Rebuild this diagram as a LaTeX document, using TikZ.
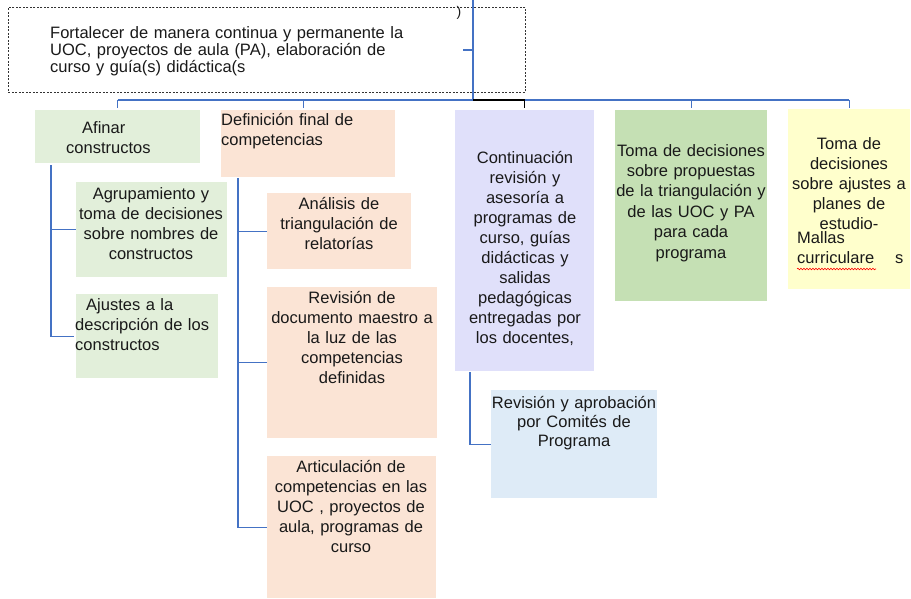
\documentclass[tikz,border=0pt]{standalone}
\usepackage{fontspec}
\setmainfont{Liberation Sans}
\usetikzlibrary{decorations.pathmorphing}
\definecolor{greenlt}{HTML}{E2EFDA}
\definecolor{greenmd}{HTML}{C5E0B4}
\definecolor{peach}{HTML}{FBE4D5}
\definecolor{lavender}{HTML}{E0E0FA}
\definecolor{yellowlt}{HTML}{FFFFCC}
\definecolor{bluelt}{HTML}{DEEBF7}
\definecolor{linkblue}{HTML}{4472C4}
\begin{document}
\begin{tikzpicture}[x=1pt, y=-1pt,
                    box/.style={inner sep=0pt, anchor=north west},
                    txt/.style={font=\fontsize{16.5}{20}\selectfont, text=black!90, inner sep=0pt},
                    ctxt/.style={txt, align=center, text width=170pt, anchor=base},
                    ltxt/.style={txt, align=left, text width=380pt, anchor=base west},
                    conn/.style={draw=linkblue, line width=1.2pt},
                    blackconn/.style={draw=black, line width=1.2pt}]
  \useasboundingbox (0,0) rectangle (911,598);

  % boxes
  \node[box, draw=black!80, dashed, dash pattern=on 2pt off 1.5pt, line width=0.8pt, minimum width=517pt, minimum height=85pt] (tope) at (8,7) {};
  \node[box, fill=greenlt, minimum width=165pt, minimum height=53pt] (afinar) at (35,110) {};
  \node[box, fill=peach, minimum width=174pt, minimum height=67pt] (defin) at (221,110) {};
  \node[box, fill=lavender, minimum width=139pt, minimum height=261pt] (contin) at (455,110) {};
  \node[box, fill=greenmd, minimum width=152pt, minimum height=191pt] (propuestas) at (615,110) {};
  \node[box, fill=yellowlt, minimum width=122pt, minimum height=180pt] (planes) at (788,109) {};
  \node[box, fill=greenlt, minimum width=151pt, minimum height=95pt] (agrup) at (76,182) {};
  \node[box, fill=greenlt, minimum width=142pt, minimum height=84pt] (descrip) at (76,294) {};
  \node[box, fill=peach, minimum width=144pt, minimum height=76pt] (analisis) at (267,193) {};
  \node[box, fill=peach, minimum width=170pt, minimum height=151pt] (revdoc) at (267,287) {};
  \node[box, fill=peach, minimum width=169pt, minimum height=142pt] (articul) at (267,456) {};
  \node[box, fill=bluelt, minimum width=166pt, minimum height=108pt] (aprob) at (491,390) {};

  % texts
  \node[ltxt, font=\fontsize{16.5}{17}\selectfont] (tope-t) at (50,38)
    {Fortalecer de manera continua y permanente la\\UOC, proyectos de aula (PA), elaboración de\\curso y guía(s) didáctica(s};
  \node[txt, font=\fontsize{14}{14}\selectfont] (paren) at (459,13) {)};
  \node[ltxt] (afinar-t) at (66,133) {\hspace*{16pt}Afinar\\constructos};
  \node[ltxt] (defin-t) at (221,125) {Definición final de\\competencias};
  \node[ctxt] (contin-t) at (525,163) {Continuación\\revisión y\\asesoría a\\programas de\\curso, guías\\didácticas y\\salidas\\pedagógicas\\entregadas por\\los docentes,};
  \node[ctxt, font=\fontsize{16.5}{20.4}\selectfont] (propuestas-t) at (691,156) {Toma de decisiones\\sobre propuestas\\de la triangulación y\\de las UOC y PA\\para cada\\programa};
  \node[ctxt] (planes-t) at (849,149) {Toma de\\decisiones\\sobre ajustes a\\planes de\\estudio-};
  \node[ltxt, text width=90pt] (mallas-t) at (797,243) {Mallas\\curriculare};
  \node[txt, anchor=base west] (ese-t) at (895,263) {s};
  \node[ctxt] (agrup-t) at (151,199) {Agrupamiento y\\toma de decisiones\\sobre nombres de\\constructos};
  \node[ltxt, text width=150pt] (descrip-t) at (75,310) {\hspace*{11pt}Ajustes a la\\descripción de los\\constructos};
  \node[ctxt] (analisis-t) at (339,209) {Análisis de\\triangulación de\\relatorías};
  \node[ctxt] (revdoc-t) at (352,303) {Revisión de\\documento maestro a\\la luz de las\\competencias\\definidas};
  \node[ctxt] (articul-t) at (351,472) {Articulación de\\competencias en las\\UOC , proyectos de\\aula, programas de\\curso};
  \node[ctxt, font=\fontsize{16.5}{19}\selectfont] (aprob-t) at (574,408) {Revisión y aprobación\\por Comités de\\Programa};

  % spelling mark
  \draw[red, line width=0.6pt, decorate, decoration={snake, amplitude=0.8pt, segment length=3pt}]
    ([yshift=-6pt]ese-t.base -| mallas-t.west) -- ++(79,0);

  % connectors
  \coordinate (arriba) at (473,0);
  \coordinate (bus) at (473,100);
  \draw[conn] (arriba) -- (bus);
  \draw[conn] ([xshift=-10pt]tope.center -| bus) -- (tope.center -| bus);
  \draw[conn] (afinar.north |- bus) -- (planes.north |- bus);
  \draw[conn] (afinar.north |- bus) -- ([yshift=2pt]afinar.north);
  \draw[conn] ([xshift=-5pt]defin.north |- bus) -- ([xshift=-5pt, yshift=2pt]defin.north);
  \draw[conn] (propuestas.north |- bus) -- ([yshift=2pt]propuestas.north);
  \draw[conn] (planes.north |- bus) -- ([yshift=1pt]planes.north);
  \draw[blackconn] (bus) -- (contin.north |- bus) -- ([yshift=2pt]contin.north);
  \draw[conn] ([xshift=16pt, yshift=-2pt]afinar.south west) |- (agrup.west);
  \draw[conn] ([xshift=16pt, yshift=-2pt]afinar.south west) |- ([xshift=-2pt]descrip.west);
  \draw[conn] ([xshift=17pt, yshift=-1pt]defin.south west) |- (analisis.west);
  \draw[conn] ([xshift=17pt, yshift=-1pt]defin.south west) |- (revdoc.west);
  \draw[conn] ([xshift=17pt, yshift=-1pt]defin.south west) |- (articul.west);
  \draw[conn] ([xshift=15pt, yshift=-1pt]contin.south west) |- (aprob.west);
\end{tikzpicture}
\end{document}
